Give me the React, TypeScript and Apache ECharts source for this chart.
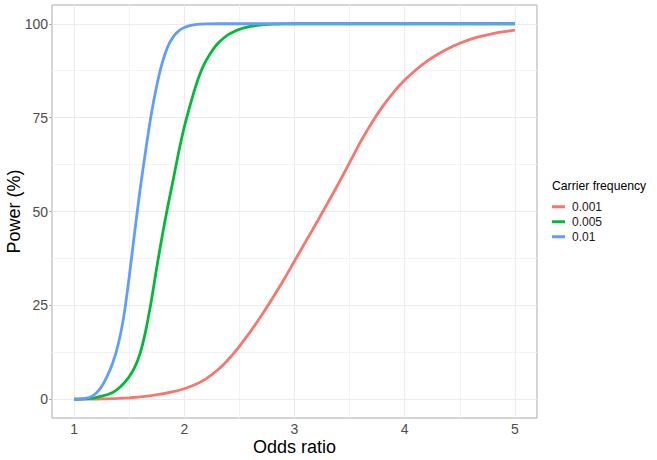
import React, { useEffect, useRef } from "react";
import * as echarts from "echarts";

// Carrier frequency 0.001 (red)
const oddsRatio001 = [1.0, 1.1, 1.2, 1.3, 1.4, 1.5, 1.6, 1.7, 1.8, 1.9, 2.0, 2.1, 2.2, 2.3, 2.4, 2.5, 2.6, 2.7, 2.8, 2.9, 3.0, 3.1, 3.2, 3.3, 3.4, 3.5, 3.6, 3.7, 3.8, 3.9, 4.0, 4.1, 4.2, 4.3, 4.4, 4.5, 4.6, 4.7, 4.8, 4.9, 5.0];
const power001 = [0, 0.02, 0.06, 0.12, 0.22, 0.38, 0.6, 0.95, 1.4, 2.0, 2.8, 3.9, 5.5, 7.7, 10.6, 14.1, 18.0, 22.3, 26.9, 31.7, 36.8, 41.9, 47.0, 52.2, 57.5, 63.0, 68.6, 73.6, 78.0, 81.8, 85.0, 87.7, 90.0, 91.9, 93.5, 94.8, 95.9, 96.7, 97.4, 97.9, 98.3];

// Carrier frequency 0.005 (green)
const oddsRatio005 = [1.0, 1.05, 1.1, 1.15, 1.2, 1.25, 1.3, 1.35, 1.4, 1.45, 1.5, 1.55, 1.6, 1.65, 1.7, 1.75, 1.8, 1.85, 1.9, 1.95, 2.0, 2.05, 2.1, 2.15, 2.2, 2.25, 2.3, 2.35, 2.4, 2.45, 2.5, 2.55, 2.6, 2.7, 2.8, 2.9, 3.0, 4.0, 5.0];
const power005 = [0, 0.02, 0.08, 0.2, 0.45, 0.8, 1.2, 1.8, 2.8, 4.2, 6.0, 8.5, 12.3, 18.2, 26.0, 35.0, 43.5, 51.3, 58.5, 65.9, 72.5, 78.0, 83.0, 87.2, 90.3, 92.7, 94.6, 96.0, 97.1, 97.9, 98.5, 98.95, 99.3, 99.7, 99.88, 99.96, 100, 100, 100];

// Carrier frequency 0.01 (blue)
const oddsRatio01 = [1.0, 1.05, 1.1, 1.15, 1.2, 1.25, 1.3, 1.35, 1.4, 1.45, 1.5, 1.55, 1.6, 1.65, 1.7, 1.75, 1.8, 1.85, 1.9, 1.95, 2.0, 2.05, 2.1, 2.15, 2.2, 2.3, 3.0, 4.0, 5.0];
const power01 = [0, 0.05, 0.2, 0.6, 1.6, 3.4, 6.1, 9.6, 14.5, 21.8, 32.5, 44.5, 56.0, 66.3, 75.8, 83.5, 89.6, 93.9, 96.5, 98.1, 99.0, 99.5, 99.78, 99.9, 99.97, 100, 100, 100, 100];

const seriesNames = ["0.001", "0.005", "0.01"];
const seriesColors = ["#F8766D", "#00BA38", "#619CFF"];

const xTicks = [1, 2, 3, 4, 5];
const yTicks = [0, 25, 50, 75, 100];
const xMinor = [1.5, 2.5, 3.5, 4.5];
const yMinor = [12.5, 37.5, 62.5, 87.5];

const FONT = "'Liberation Sans', Arial, Helvetica, sans-serif";

function pairs(xs: number[], ys: number[]) {
  return xs.map((x, i) => [x, ys[i]]);
}

export default function App() {
  const ref = useRef<HTMLDivElement>(null);

  useEffect(() => {
    if (!ref.current) return;
    const chart = echarts.init(ref.current, null, { renderer: "svg" });

    const gridLineData: any[] = [];
    xMinor.forEach((v) => gridLineData.push({ xAxis: v, lineStyle: { color: "#f3f3f3", width: 1, type: "solid" } }));
    yMinor.forEach((v) => gridLineData.push({ yAxis: v, lineStyle: { color: "#f3f3f3", width: 1, type: "solid" } }));
    xTicks.forEach((v) => gridLineData.push({ xAxis: v, lineStyle: { color: "#ebebeb", width: 1, type: "solid" } }));
    yTicks.forEach((v) => gridLineData.push({ yAxis: v, lineStyle: { color: "#ebebeb", width: 1, type: "solid" } }));

    const dataSets = [
      pairs(oddsRatio001, power001),
      pairs(oddsRatio005, power005),
      pairs(oddsRatio01, power01),
    ];

    const option: any = {
      animation: false,
      textStyle: { fontFamily: FONT },
      grid: {
        left: 52,
        top: 5,
        right: 120,
        bottom: 42,
        show: true,
        borderColor: "#ababab",
        borderWidth: 1,
        backgroundColor: "#ffffff",
        containLabel: false,
        outerBoundsMode: "none",
      },
      xAxis: {
        type: "value",
        min: 0.8,
        max: 5.2,
        name: "Odds ratio",
        nameLocation: "middle",
        nameGap: 19.5,
        nameMoveOverlap: false,
        nameTextStyle: { fontSize: 18, color: "#000000", fontFamily: FONT },
        axisLine: { show: false },
        axisTick: { show: true, length: 3, customValues: xTicks, lineStyle: { color: "#ababab", width: 1 } },
        axisLabel: { show: true, customValues: xTicks, fontSize: 14, color: "#4d4d4d", margin: 4, fontFamily: FONT },
        splitLine: { show: false },
      },
      yAxis: {
        type: "value",
        min: -5,
        max: 105,
        name: "Power (%)",
        nameLocation: "middle",
        nameGap: 29,
        nameRotate: 90,
        nameMoveOverlap: false,
        nameTextStyle: { fontSize: 18, color: "#000000", fontFamily: FONT },
        axisLine: { show: false },
        axisTick: { show: true, length: 3, customValues: yTicks, lineStyle: { color: "#ababab", width: 1 } },
        axisLabel: { show: true, customValues: yTicks, fontSize: 14, color: "#4d4d4d", margin: 4, fontFamily: FONT },
        splitLine: { show: false },
      },
      legend: {
        data: seriesNames,
        orient: "vertical",
        left: 552,
        top: 200,
        itemWidth: 13,
        itemHeight: 3,
        itemGap: 1.5,
        icon: "rect",
        padding: 0,
        textStyle: { fontSize: 12, color: "#1a1a1a", fontFamily: FONT, lineHeight: 13.5, padding: [0, 0, 0, 2] },
        selectedMode: false,
      },
      graphic: [
        {
          type: "text",
          left: 552,
          top: 180,
          style: { text: "Carrier frequency", fontSize: 12.2, fill: "#000000", fontFamily: FONT },
        },
      ],
      series: [
        {
          name: "grid",
          type: "line",
          data: [],
          z: 1,
          silent: true,
          markLine: {
            silent: true,
            z: 1,
            symbol: ["none", "none"],
            label: { show: false },
            animation: false,
            data: gridLineData,
          },
        },
        ...seriesNames.map((name, i) => ({
          name,
          type: "line",
          data: dataSets[i],
          showSymbol: false,
          symbol: "none",
          smooth: 0.3,
          z: 3 + i,
          color: seriesColors[i],
          lineStyle: { color: seriesColors[i], width: 2.8 },
          emphasis: { disabled: true },
        })),
      ],
    };

    chart.setOption(option);
    return () => chart.dispose();
  }, []);

  return (
    <div
      ref={ref}
      style={{ position: "fixed", left: 0, top: 0, width: 657, height: 460, background: "#ffffff" }}
    />
  );
}
